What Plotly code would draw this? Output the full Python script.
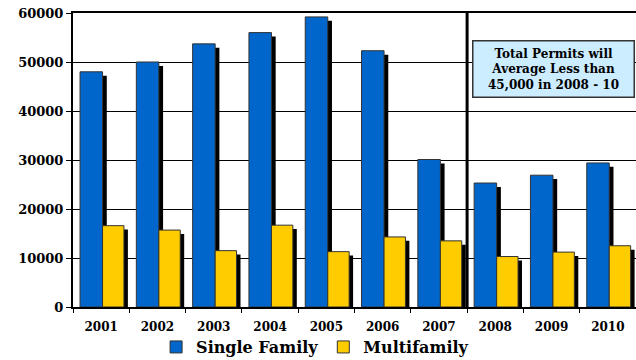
import plotly.graph_objects as go

years = ["2001", "2002", "2003", "2004", "2005", "2006", "2007", "2008", "2009", "2010"]
single_family = [48000, 50000, 53700, 56000, 59200, 52300, 30100, 25300, 26900, 29400]
multifamily = [16600, 15700, 11500, 16700, 11300, 14300, 13500, 10300, 11200, 12500]

BLUE = "#0066CC"
YELLOW = "#FFCC00"
FONT = "DejaVu Serif"
DEPTH = 800  # shadow drop (value units)

fig = go.Figure()

# shadows
fig.add_trace(go.Bar(x=years, y=[v - DEPTH for v in single_family], offset=-0.30, width=0.40,
                     marker=dict(color="black", line=dict(width=0)), showlegend=False, hoverinfo="skip"))
fig.add_trace(go.Bar(x=years, y=[v - DEPTH for v in multifamily], offset=0.095, width=0.38,
                     marker=dict(color="black", line=dict(width=0)), showlegend=False, hoverinfo="skip"))
# main bars
fig.add_trace(go.Bar(x=years, y=single_family, name="Single Family", offset=-0.375, width=0.40,
                     marker=dict(color=BLUE, line=dict(color="#333333", width=1))))
fig.add_trace(go.Bar(x=years, y=multifamily, name="Multifamily", offset=0.025, width=0.38,
                     marker=dict(color=YELLOW, line=dict(color="#333333", width=1))))

fig.update_layout(
    width=636, height=360,
    margin=dict(l=73, r=0, t=13, b=53),
    barmode="overlay",
    plot_bgcolor="white", paper_bgcolor="white",
    font=dict(family=FONT, color="black"),
    legend=dict(orientation="h", x=0.43, xanchor="center", yref="container", y=0.036, yanchor="middle",
                font=dict(family=FONT, size=16, color="black", weight="bold"), traceorder="normal",
                itemwidth=30, tracegroupgap=0, bgcolor="rgba(0,0,0,0)"),
    xaxis=dict(type="category", showline=True, linecolor="black", linewidth=2, mirror=True,
               ticks="outside", tickson="boundaries", ticklen=4, tickcolor="black",
               ticklabelstandoff=8, automargin=False,
               tickfont=dict(family=FONT, size=12, color="black", weight="bold"), showgrid=False),
    yaxis=dict(range=[0, 60000], dtick=10000, tickformat="d", showline=True, linecolor="black",
               linewidth=2, mirror=True, automargin=False,
               ticks="outside", ticklen=5, tickcolor="black", showgrid=True, gridcolor="black", gridwidth=1,
               tickfont=dict(family=FONT, size=13, color="black", weight="bold"), zeroline=False),
    bargap=0.2,
)

fig.add_shape(type="line", xref="x", yref="paper", x0=6.5, x1=6.5, y0=0, y1=1,
              line=dict(color="black", width=3))

fig.add_annotation(xref="paper", yref="paper", x=0.853, y=0.81, xanchor="center", yanchor="middle",
                   text="<b>Total Permits will<br>Average Less than<br>45,000 in 2008 - 10</b>",
                   showarrow=False, align="center", font=dict(family=FONT, size=12, color="black"),
                   bgcolor="#CCECFF", bordercolor="#333333", borderwidth=1.5, borderpad=5, width=150)

fig.write_html("out.html")
